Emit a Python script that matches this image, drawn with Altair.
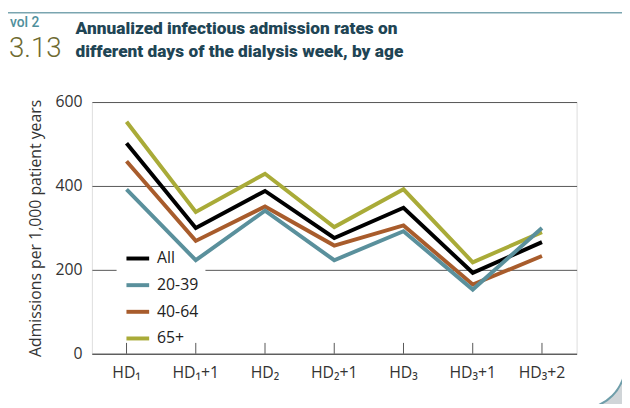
import altair as alt
import pandas as pd
import math

days = ["HD₁", "HD₁+1", "HD₂", "HD₂+1", "HD₃", "HD₃+1", "HD₃+2"]
series_names = ["All", "20-39", "40-64", "65+"]
all_vals = [502, 300, 388, 276, 348, 193, 266]
age_20_39 = [392, 223, 341, 223, 292, 153, 300]
age_40_64 = [459, 269, 351, 258, 306, 165, 233]
age_65_plus = [553, 338, 429, 302, 392, 218, 290]
colors = ["#000000", "#5a909c", "#a85c2c", "#a9ab38"]

# draw order: 65+, 40-64, All, 20-39 (teal on top)
rows = []
for name, vals in [("65+", age_65_plus), ("40-64", age_40_64), ("All", all_vals), ("20-39", age_20_39)]:
    for i, (d, v) in enumerate(zip(days, vals)):
        rows.append({"day": d, "idx": i, "series": name, "value": v})
df = pd.DataFrame(rows)
days_df = pd.DataFrame({"day": days})
one = pd.DataFrame({"k": [0]})

FONT = "Open Sans"
TFONT = "Roboto"
W, H = 491, 255

xscale = alt.Scale(type="point", domain=days, padding=0.5)

lines = alt.Chart(df).mark_line(strokeWidth=4, strokeJoin="miter").encode(
    x=alt.X("day:N", scale=xscale, sort=days,
            axis=alt.Axis(title=None, labels=False, ticks=False,
                          domainColor="#555555", domainWidth=1.2, grid=False)),
    y=alt.Y("value:Q", scale=alt.Scale(domain=[0, 600]),
            axis=alt.Axis(values=[0, 200, 400, 600], title="Admissions per 1,000 patient years",
                          titleFontSize=16, titleFont=FONT, titleFontWeight="normal",
                          titleColor="#333333", titlePadding=12,
                          labelFontSize=16, labelFont=FONT, labelColor="#333333",
                          labelPadding=10, ticks=False, domain=False,
                          grid=True, gridColor="#555555", gridWidth=1)),
    color=alt.Color("series:N", scale=alt.Scale(domain=series_names, range=colors),
                    legend=alt.Legend(orient="none", legendX=33, legendY=145, title=None,
                                      symbolType="stroke", symbolStrokeWidth=4, symbolSize=529,
                                      labelFontSize=16, labelFont=FONT, labelColor="#222222",
                                      labelOffset=6, rowPadding=5, padding=0)),
    order=alt.Order("idx:Q"),
)

# x tick labels as text drawn through the same point scale
xlabels = alt.Chart(days_df).mark_text(font=FONT, fontSize=16, color="#333333",
                                       align="center", baseline="top").encode(
    x=alt.X("day:N", scale=xscale, sort=days),
    y=alt.value(H + 12),
    text="day:N",
)

# white box behind legend (interrupts the gridline)
legend_box = alt.Chart(one).mark_rect(color="white").encode(
    x=alt.value(25), x2=alt.value(115), y=alt.value(145), y2=alt.value(240)
)

ticks = alt.Chart(days_df).mark_rule(color="#555555", strokeWidth=1).encode(
    x=alt.X("day:N", scale=xscale, sort=days),
    y=alt.value(H), y2=alt.value(H - 11)
)

frame_top = alt.Chart(one).mark_rule(color="#7aa5b0", strokeWidth=1.5).encode(
    x=alt.value(-88), x2=alt.value(560), y=alt.value(-90.5)
)
frame_left = alt.Chart(one).mark_rule(color="#7aa5b0", strokeWidth=1.5).encode(
    x=alt.value(-88), y=alt.value(-90.5), y2=alt.value(320)
)
corner_shadow = alt.Chart(one).mark_arc(theta=math.pi / 2, theta2=math.pi,
                                        radius=90, radius2=46, color="#d0d5d8").encode(
    x=alt.value(588 - 93), y=alt.value(366 - 100.7)
)
corner_line = alt.Chart(one).mark_arc(theta=math.pi / 2, theta2=math.pi,
                                      radius=46.5, radius2=44.5, color="#6f9eaa").encode(
    x=alt.value(588 - 93), y=alt.value(366 - 100.7)
)

vol = alt.Chart(one).mark_text(text="vol 2", font=TFONT, fontSize=14, fontWeight=500,
                               color="#4f8f9c", align="left", baseline="alphabetic").encode(
    x=alt.value(-83), y=alt.value(-76)
)
num = alt.Chart(one).mark_text(text="3.13", font=TFONT, fontSize=28, fontWeight=300,
                               color="#6e6a30", align="left", baseline="alphabetic").encode(
    x=alt.value(-84), y=alt.value(-46)
)
t1 = alt.Chart(one).mark_text(text="Annualized infectious admission rates on", font=TFONT,
                              fontSize=17.5, fontWeight=900, color="#1f4555",
                              align="left", baseline="alphabetic").encode(
    x=alt.value(-16.5), y=alt.value(-69)
)
t2 = alt.Chart(one).mark_text(text="different days of the dialysis week, by age", font=TFONT,
                              fontSize=17.5, fontWeight=900, color="#1f4555",
                              align="left", baseline="alphabetic").encode(
    x=alt.value(-16.5), y=alt.value(-46)
)

chart = alt.layer(
    corner_shadow, corner_line, frame_top, frame_left,
    legend_box, ticks, lines, xlabels, vol, num, t1, t2
).properties(
    width=W, height=H,
    autosize=alt.AutoSizeParams(type="none"),
    padding={"left": 85, "top": 92.7, "right": 46, "bottom": 48},
).configure_view(stroke=None).configure(background="white")

chart.save("out.html", embed_options={"renderer": "svg", "actions": False})
